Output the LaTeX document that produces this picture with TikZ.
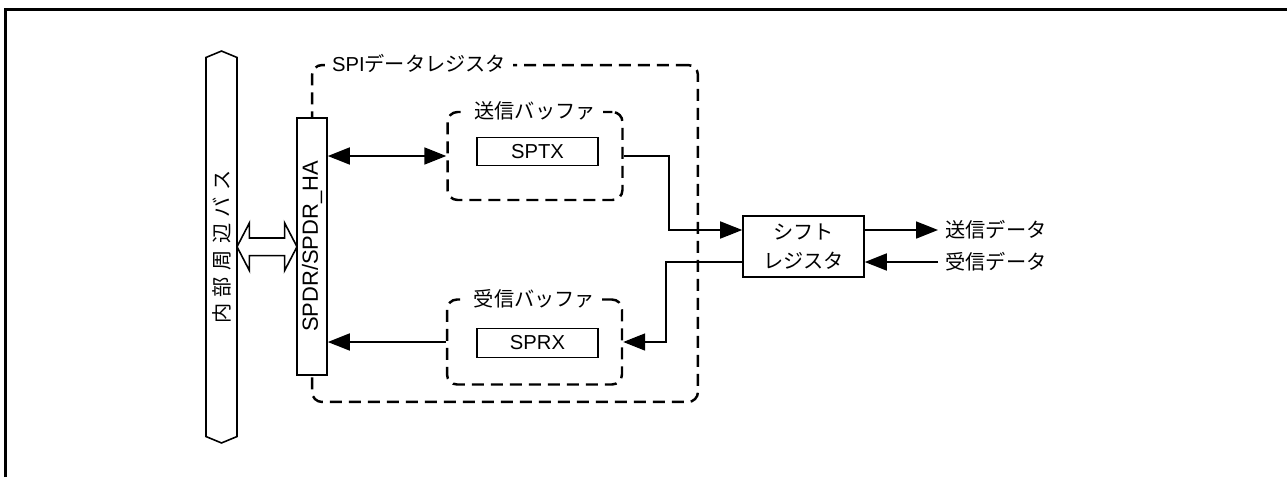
\documentclass[tikz,border=0pt]{standalone}
\usepackage{fontspec}
\setmainfont{Liberation Sans}
\newfontfamily\jp{Noto Sans CJK JP}
\usetikzlibrary{arrows.meta,positioning,calc,shapes.symbols,shapes.arrows}
\tikzset{
  every node/.style={font=\fontsize{11.5pt}{16.5pt}\selectfont},
  regbox/.style={draw,line width=0.9pt,fill=white,inner sep=0pt},
  grpbox/.style={draw,line width=1.4pt,dash pattern=on 2.4mm off 1.4mm,rounded corners=2mm},
  grplabel/.style={fill=white,inner xsep=4pt,inner ysep=1.5pt},
  busbar/.style={draw,line width=0.9pt,signal,signal to=east and west,signal pointer angle=135,rotate=90,inner sep=0pt},
  busarrow/.style={draw,line width=0.9pt,fill=white,double arrow,double arrow head extend=0.3cm,double arrow tip angle=125,inner xsep=0pt,inner ysep=0.16cm},
  sigline/.style={draw,line width=1pt,-{Triangle[length=4.4mm,width=3.4mm]}},
  iolabel/.style={anchor=west,inner xsep=4pt,font=\jp\fontsize{11.5pt}{14pt}\selectfont},
}

\begin{document}
\begin{tikzpicture}[x=0.02cm,y=-0.02cm]
    \useasboundingbox (0,0) rectangle (1287,477);
    % frame
    \draw[line width=1.7pt] (5.5,477) |- (1287,9.5);

    % register group
    \node[grpbox,minimum width=7.72cm,minimum height=6.74cm] (spireg) at (505,233.5) {};
    \node[grplabel,anchor=west] (spilabel) at ([xshift=0.28cm]spireg.north west) {SPI{\jp データレジスタ}};

    \node[busbar,minimum width=7.84cm,minimum height=0.62cm] (bus) at (221.5,247)
      {\jp 内\kern3.7pt 部\kern3.7pt 周\kern3.7pt 辺\kern3.7pt バ\kern3.7pt ス};
    \node[regbox,rotate=90,minimum width=5.14cm,minimum height=0.6cm,font=\fontsize{12.5pt}{15pt}\selectfont] (spdr) at (312,246.5) {SPDR/SPDR\_HA};
    \node[busarrow,minimum height=1.2cm,minimum width=0.92cm] (link) at ($(bus.south)!0.5!(spdr.north)$) {};

    % buffers
    \node[grpbox,minimum width=3.5cm,minimum height=1.76cm] (txbuf) at (535,156) {};
    \node[grplabel,font=\jp\fontsize{11.5pt}{14pt}\selectfont] (txlabel) at (txbuf.north) {送信バッファ};
    \node[regbox,minimum width=2.42cm,minimum height=0.56cm] (sptx) at (537.5,151.5) {SPTX};

    \node[grpbox,minimum width=3.5cm,minimum height=1.7cm] (rxbuf) at (534.5,342) {};
    \node[grplabel,font=\jp\fontsize{11.5pt}{14pt}\selectfont] (rxlabel) at (rxbuf.north) {受信バッファ};
    \node[regbox,minimum width=2.42cm,minimum height=0.58cm] (sprx) at (537.5,343) {SPRX};

    % shift register and serial data
    \node[regbox,minimum width=2.42cm,minimum height=1.22cm,align=center,font=\jp\fontsize{11.5pt}{16.5pt}\selectfont] (shift) at (803.5,246.5) {シフト\\レジスタ};
    \node[iolabel] (txout) at (938,230) {送信データ};
    \node[iolabel] (rxin) at (938,262) {受信データ};

    \draw[sigline,{Triangle[length=4.4mm,width=3.4mm]}-{Triangle[length=4.4mm,width=3.4mm]}] (spdr.south |- txbuf) -- (txbuf.west);
    \draw[sigline] (txbuf.east) -- ++(45,0) |- (shift.west |- txout);
    \draw[sigline] (shift.east |- txout) -- (txout);
    \draw[sigline] (rxin) -- (shift.east |- rxin);
    \draw[sigline] (shift.west |- rxin) -- ++(-76,0) |- (rxbuf.east);
    \draw[sigline] (rxbuf.west) -- (spdr.south |- rxbuf);
  \end{tikzpicture}
\end{document}
